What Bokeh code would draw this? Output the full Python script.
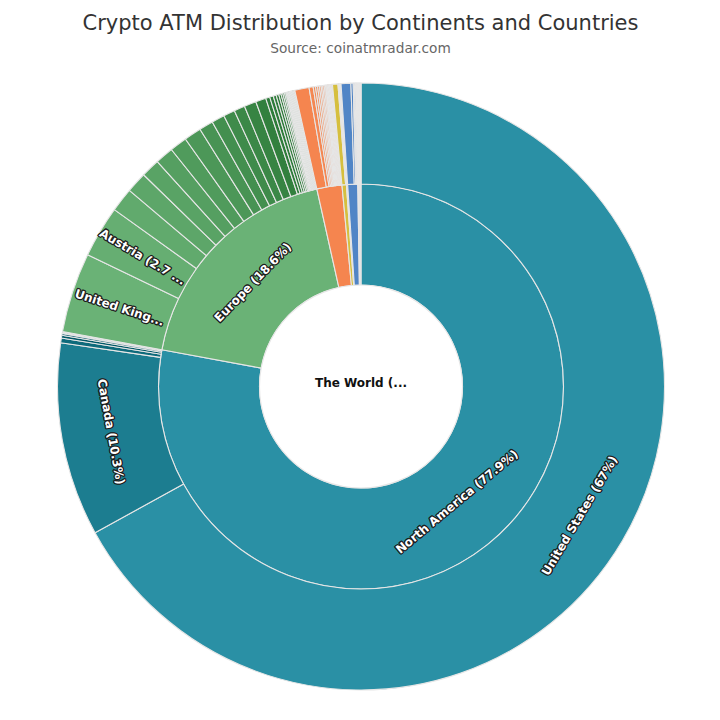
import math

from bokeh.core.properties import value
from bokeh.embed import file_html
from bokeh.models import ColumnDataSource, Range1d
from bokeh.plotting import figure
from bokeh.resources import INLINE

TITLE = "Crypto ATM Distribution by Continents and Countries"
SUBTITLE = "Source: coinatmradar.com"
ROOT_LABEL = "The World (..."

# share of all machines, in percent
CONTINENTS = ["North America", "Europe", "Asia", "South America", "Africa", "Oceania", "Other"]
CONTINENT_SHARES = [77.9, 18.6, 2.0, 0.35, 0.1, 0.8, 0.25]
CONTINENT_LABELS = ["North America (77.9%)", "Europe (18.6%)", "", "", "", "", ""]

NORTH_AMERICA = [67.0, 10.3, 0.25, 0.15, 0.1, 0.06, 0.04]
NORTH_AMERICA_LABELS = ["United States (67%)", "Canada (10.3%)", "", "", "", "", ""]

EUROPE = [4.25, 2.75, 1.28, 1.11, 1.0, 0.97, 0.92, 0.92, 0.75, 0.69, 0.61, 0.58, 0.64, 0.55,
          0.22, 0.19, 0.16, 0.14, 0.12, 0.1, 0.09, 0.07, 0.06, 0.04, 0.03,
          0.03, 0.03, 0.03, 0.03, 0.03, 0.03, 0.03, 0.03, 0.03, 0.03, 0.03, 0.03]
EUROPE_LABELS = ["United King...", "Austria (2.7 ..."]

ASIA = [0.76, 0.22, 0.12, 0.11, 0.1, 0.09, 0.08, 0.08, 0.07, 0.06,
        0.03, 0.03, 0.03, 0.03, 0.03, 0.03, 0.03, 0.03, 0.03, 0.03, 0.01]
SOUTH_AMERICA = [0.29, 0.02, 0.02, 0.02]
AFRICA = [0.03, 0.03, 0.04]
OCEANIA = [0.52, 0.12, 0.03, 0.03, 0.03, 0.03, 0.03, 0.01]
OTHER = [0.03, 0.03, 0.03, 0.03, 0.03, 0.03, 0.03, 0.03, 0.01]

CHILDREN = [NORTH_AMERICA, EUROPE, ASIA, SOUTH_AMERICA, AFRICA, OCEANIA, OTHER]
BASE_COLOURS = ["#2a90a5", "#6ab276", "#f5854f", "#d6bf3e", "#d9d9d9", "#5085c6", "#e3e3e3"]
DARK_COLOURS = ["#005766", "#2e7c3a", "#f09263", "#d6bf3e", "#d9d9d9", "#4a7dbd", "#e3e3e3"]
DARK_AT = [3, 14, 6, 1, 1, 2, 1]
BORDER = "#e6e6e6"
OUTLINE = "#1c1c1c"
FONT = "DejaVu Sans"

CX, CY = 360.5, 318
R0, R1, R2 = 101.5, 202.5, 303.5


def mix(a, b, t):
    ca = [int(a[i:i + 2], 16) for i in (1, 3, 5)]
    cb = [int(b[i:i + 2], 16) for i in (1, 3, 5)]
    return "#%02x%02x%02x" % tuple(round(x + (y - x) * t) for x, y in zip(ca, cb))


def ring(shares, colours, labels, r_in, r_out, start=0.0, label_r=None):
    rows = {"start": [], "end": [], "colour": [], "r_in": [], "r_out": []}
    text = {"x": [], "y": [], "text": [], "angle": []}
    pos = start
    for i, share in enumerate(shares):
        a0 = math.radians(90 - pos * 3.6)
        pos += share
        a1 = math.radians(90 - pos * 3.6)
        rows["start"].append(a0)
        rows["end"].append(a1)
        rows["colour"].append(colours[i])
        rows["r_in"].append(r_in)
        rows["r_out"].append(r_out)
        if i < len(labels) and labels[i]:
            mid = (a0 + a1) / 2
            # narrow slices get their label along the radius, wide ones along the arc
            rot = mid if share < 5 else mid + math.pi / 2
            while rot > math.pi / 2:
                rot -= math.pi
            while rot <= -math.pi / 2:
                rot += math.pi
            text["x"].append(CX + label_r * math.cos(mid))
            text["y"].append(CY + label_r * math.sin(mid))
            text["text"].append(labels[i])
            text["angle"].append(rot)
    return rows, text


p = figure(width=704, height=704, output_backend="svg", toolbar_location=None,
           x_range=Range1d(0, 704), y_range=Range1d(0, 704), min_border=0,
           outline_line_color=None, background_fill_color="white")
p.axis.visible = False
p.grid.visible = False


def draw(rows):
    p.annular_wedge(x=CX, y=CY, inner_radius="r_in", outer_radius="r_out", start_angle="start",
                    end_angle="end", direction="clock", fill_color="colour", line_color=BORDER,
                    line_width=1.1, source=ColumnDataSource(rows))


def draw_labels(text):
    source = ColumnDataSource(text)
    # dark copies nudged around the label make the thick outline
    for dx, dy in [(-0.8, 0), (0.8, 0), (0, -0.8), (0, 0.8)]:
        p.text(x="x", y="y", text="text", angle="angle", x_offset=dx, y_offset=dy, text_color=OUTLINE,
               text_font=value(FONT), text_font_style="bold", text_font_size="12px", text_align="center",
               text_baseline="middle", text_outline_color=OUTLINE, source=source)
    p.text(x="x", y="y", text="text", angle="angle", text_color="white", text_font=value(FONT),
           text_font_style="bold", text_font_size="12px", text_align="center",
           text_baseline="middle", source=source)


inner_rows, inner_text = ring(CONTINENT_SHARES, BASE_COLOURS, CONTINENT_LABELS, R0, R1, label_r=150)
draw(inner_rows)

labels_todo = [inner_text]
offset = 0.0
for k, kids in enumerate(CHILDREN):
    colours = [mix(BASE_COLOURS[k], DARK_COLOURS[k], min(i / DARK_AT[k], 1)) for i in range(len(kids))]
    labels = NORTH_AMERICA_LABELS if k == 0 else EUROPE_LABELS if k == 1 else []
    rows, text = ring(kids, colours, labels, R1, R2, start=offset, label_r=254)
    draw(rows)
    labels_todo.append(text)
    offset += CONTINENT_SHARES[k]

for text in labels_todo:
    if text["text"]:
        draw_labels(text)

p.circle(x=[CX], y=[CY], radius=R0, fill_color="white", line_color=BORDER, line_width=1.1)
p.text(x=[CX], y=[CY + 4], text=[ROOT_LABEL], text_color="#111111", text_font=value(FONT),
       text_font_style="bold", text_font_size="12px", text_align="center", text_baseline="middle")

p.text(x=[360], y=[682], text=[TITLE], text_color="#333333", text_font=value(FONT),
       text_font_size="21px", text_align="center", text_baseline="middle")
p.text(x=[360], y=[657], text=[SUBTITLE], text_color="#666666", text_font=value(FONT),
       text_font_size="13.7px", text_align="center", text_baseline="middle")

open("out.html", "w").write(file_html(p, INLINE))
